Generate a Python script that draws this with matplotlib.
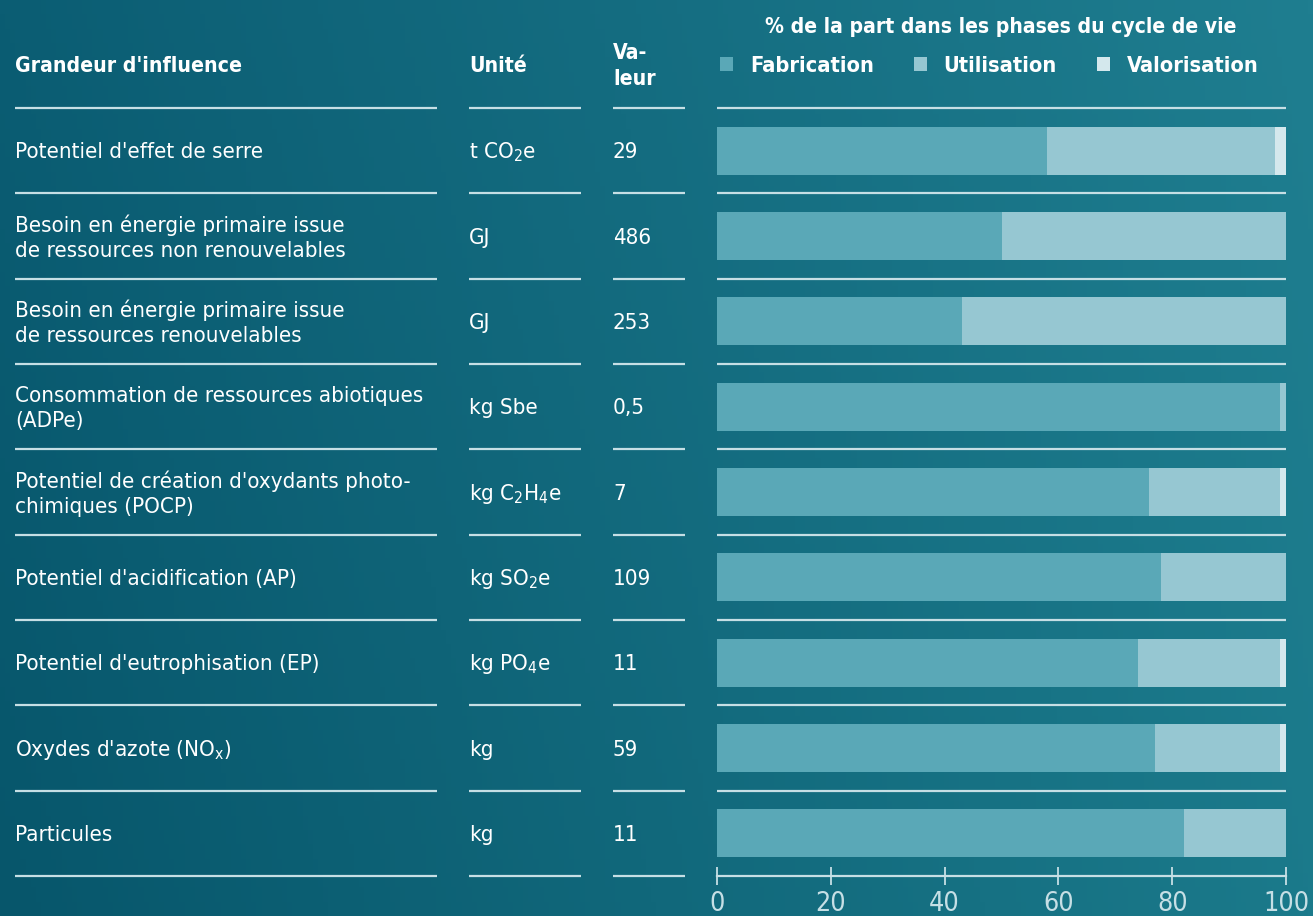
import numpy as np
import matplotlib
matplotlib.use('Agg')
from matplotlib import pyplot as plt
from matplotlib import font_manager as fm
from matplotlib.colors import to_rgb

# pick a narrow font if one is installed
family, stretch = 'Roboto', 'normal'
for f in fm.fontManager.ttflist:
    if 'Narrow' in f.name or 'Condensed' in f.name or f.stretch in ('condensed', 'semi-condensed'):
        family, stretch = f.name, f.stretch
        break
plt.rcParams['font.family'] = [family, 'DejaVu Sans']
plt.rcParams['font.stretch'] = stretch

# data
names = ["Potentiel d'effet de serre",
         "Besoin en énergie primaire issue\nde ressources non renouvelables",
         "Besoin en énergie primaire issue\nde ressources renouvelables",
         "Consommation de ressources abiotiques\n(ADPe)",
         "Potentiel de création d'oxydants photo-\nchimiques (POCP)",
         "Potentiel d'acidification (AP)",
         "Potentiel d'eutrophisation (EP)",
         "Oxydes d'azote (NO$\\mathregular{_x}$)",
         "Particules"]
units = ["t CO$\\mathregular{_2}$e", "GJ", "GJ", "kg Sbe",
         "kg C$\\mathregular{_2}$H$\\mathregular{_4}$e", "kg SO$\\mathregular{_2}$e",
         "kg PO$\\mathregular{_4}$e", "kg", "kg"]
values = ["29", "486", "253", "0,5", "7", "109", "11", "59", "11"]
fabrication = np.array([58, 50, 43, 99, 76, 78, 74, 77, 82])
utilisation = np.array([40, 50, 57, 1, 23, 22, 25, 22, 18])
valorisation = np.array([2, 0, 0, 0, 1, 0, 1, 1, 0])
phases = ['Fabrication', 'Utilisation', 'Valorisation']
ticks = [0, 20, 40, 60, 80, 100]

c_fab, c_util, c_val = '#5aa8b7', '#96c7d2', '#d4e8ed'
line_c = '#c6dfe5'
txt_c = 'white'

W, H = 1313, 916
fig = plt.figure(figsize=(W / 100, H / 100), dpi=100)
renderer = fig.canvas.get_renderer()


def fit_size(s, target_px, weight='normal', cap=19.5):
    t = fig.text(0, 0, s, fontsize=10, weight=weight)
    w = t.get_window_extent(renderer).width
    t.remove()
    return min(cap, 10 * target_px / w)


fs = fit_size("Potentiel d'effet de serre", 244) * 1.02
fs_head = fit_size("Grandeur d'influence", 225, 'bold')
fs_title = fit_size("% de la part dans les phases du cycle de vie", 470, 'bold')
fs_leg = fit_size("Fabrication", 123, 'bold')
fs_tick = fit_size("100", 46, cap=20)
leg_px = fs_leg * 100 / 72

# background gradient
bg = fig.add_axes([0, 0, 1, 1])
tl, tr = np.array(to_rgb('#0b5d73')), np.array(to_rgb('#1f7e90'))
bl, br = np.array(to_rgb('#07566b')), np.array(to_rgb('#1b7a8b'))
u = np.linspace(0, 1, 256)[None, :, None]
v = np.linspace(0, 1, 64)[:, None, None]
grad = (1 - v) * ((1 - u) * tl + u * tr) + v * ((1 - u) * bl + u * br)
bg.imshow(grad, aspect='auto', extent=[0, 1, 0, 1], origin='upper')
bg.axis('off')

top_px, bot_px = 108, 876
n = len(names)

# table axes in pixel x units
tab = fig.add_axes([0, 1 - bot_px / H, 1, (bot_px - top_px) / H])
tab.set_xlim(0, W)
tab.set_ylim(n, 0)
tab.axis('off')
tab.patch.set_alpha(0)

cols = [(15, 437), (469, 581), (613, 685)]
for k in range(n + 1):
    for x0, x1 in cols:
        tab.plot([x0, x1], [k, k], color=line_c, lw=1.6, solid_capstyle='butt', clip_on=False)

for i in range(n):
    yc = i + 0.52
    tab.text(15, yc, names[i], color=txt_c, fontsize=fs, va='center', ha='left', linespacing=1.3)
    tab.text(469, yc, units[i], color=txt_c, fontsize=fs, va='center', ha='left')
    tab.text(613, yc, values[i], color=txt_c, fontsize=fs, va='center', ha='left')

hy = -0.49
tab.text(15, hy, "Grandeur d'influence", color=txt_c, fontsize=fs_head, weight='bold', va='center')
tab.text(469, hy, "Unité", color=txt_c, fontsize=fs_head, weight='bold', va='center')
tab.text(613, hy, "Va-\nleur", color=txt_c, fontsize=fs_head, weight='bold', va='center', linespacing=1.4)
tab.text(1001, -0.95, "% de la part dans les phases du cycle de vie", color=txt_c,
         fontsize=fs_title, weight='bold', va='center', ha='center', clip_on=False)

# bars
ax = fig.add_axes([717 / W, 1 - bot_px / H, (1286 - 717) / W, (bot_px - top_px) / H])
ax.patch.set_alpha(0)
y = np.arange(n) + 0.5
h = 0.565
b1 = ax.barh(y, fabrication, height=h, color=c_fab, label=phases[0])
b2 = ax.barh(y, utilisation, left=fabrication, height=h, color=c_util, label=phases[1])
b3 = ax.barh(y, valorisation, left=fabrication + utilisation, height=h, color=c_val, label=phases[2])
ax.hlines(range(n), 0, 100, color=line_c, lw=1.6, clip_on=False)
ax.set_xlim(0, 100)
ax.set_ylim(n, 0)
ax.set_yticks([])
ax.set_xticks(ticks)
for s in ['top', 'left', 'right']:
    ax.spines[s].set_visible(False)
ax.spines['bottom'].set_color(line_c)
ax.spines['bottom'].set_linewidth(1.6)
ax.tick_params(axis='x', direction='inout', length=13.5, width=1.3, colors=line_c,
               labelsize=fs_tick, pad=4)

leg = ax.legend(handles=[b1, b2, b3], loc='center left', bbox_to_anchor=(0.005, 1.055),
                ncol=3, frameon=False, borderaxespad=0, borderpad=0,
                handlelength=13 / leg_px, handleheight=13 / leg_px,
                handletextpad=17 / leg_px, columnspacing=40 / leg_px,
                prop={'weight': 'bold', 'size': fs_leg})
for t in leg.get_texts():
    t.set_color(txt_c)

fig.savefig('out.png', dpi=100)
